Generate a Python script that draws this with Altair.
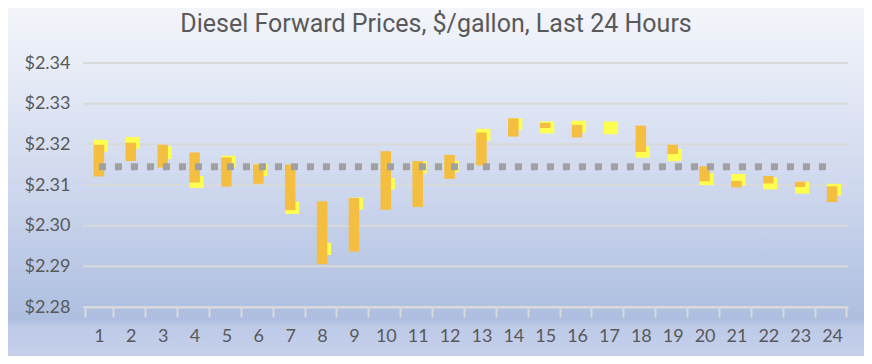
import altair as alt
import pandas as pd

TITLE = "Diesel Forward Prices, $/gallon, Last 24 Hours"
hours = list(range(1, 25))

# orange bars (top, bottom)
orange_top = [2.3199, 2.3204, 2.3199, 2.3180, 2.3168, 2.3151, 2.3150, 2.3060,
              2.3068, 2.3183, 2.3159, 2.3174, 2.3229, 2.3264, 2.3253, 2.3248,
              2.3240, 2.3246, 2.3199, 2.3146, 2.3110, 2.3122, 2.3108, 2.3097]
orange_bot = [2.3121, 2.3159, 2.3143, 2.3106, 2.3096, 2.3103, 2.3038, 2.2905,
              2.2936, 2.3039, 2.3046, 2.3115, 2.3148, 2.3219, 2.3240, 2.3217,
              2.3240, 2.3181, 2.3176, 2.3109, 2.3094, 2.3104, 2.3095, 2.3058]
# yellow boxes (top, bottom)
yellow_top = [2.3211, 2.3218, 2.3195, 2.3122, 2.3172, 2.3152, 2.3059, 2.2958,
              2.3069, 2.3117, 2.3158, 2.3160, 2.3238, 2.3264, 2.3256, 2.3258,
              2.3256, 2.3195, 2.3189, 2.3129, 2.3127, 2.3118, 2.3108, 2.3103]
yellow_bot = [2.3182, 2.3189, 2.3164, 2.3093, 2.3143, 2.3122, 2.3029, 2.2928,
              2.3040, 2.3089, 2.3128, 2.3131, 2.3209, 2.3236, 2.3227, 2.3229,
              2.3225, 2.3167, 2.3159, 2.3100, 2.3099, 2.3089, 2.3079, 2.3074]
average = 2.3145
y_ticks = [2.28, 2.29, 2.30, 2.31, 2.32, 2.33, 2.34]

W, H = 765, 244
PAD = {"left": 75, "top": 55, "right": 16, "bottom": 49}

df = pd.DataFrame({
    "hour": hours,
    "o_top": orange_top, "o_bot": orange_bot,
    "y_top": yellow_top, "y_bot": yellow_bot,
    "avg": [average] * len(hours),
})
grid_df = pd.DataFrame({"v": y_ticks})
title_df = pd.DataFrame({"t": [TITLE]})

yscale = alt.Scale(domain=[2.28, 2.34], nice=False, zero=False)
FONT = "Lato"
TXT = "#595959"

xenc = alt.X("hour:O", title=None,
             axis=alt.Axis(labelAngle=0, tickBand="extent", tickSize=10,
                           tickColor="#d9d9d9", tickWidth=2,
                           domainColor="#d9d9d9", domainWidth=2,
                           labelPadding=10, labelFont=FONT, labelFontSize=18,
                           labelColor=TXT, grid=False, zindex=1))

bg = alt.Chart(title_df).mark_rect(
    fill=alt.Gradient(
        gradient="linear",
        stops=[alt.GradientStop(color="#f3f5fa", offset=0),
               alt.GradientStop(color="#e6ebf6", offset=0.18),
               alt.GradientStop(color="#cbd5ec", offset=0.55),
               alt.GradientStop(color="#adbee0", offset=0.895),
               alt.GradientStop(color="#bdcae8", offset=0.915),
               alt.GradientStop(color="#c5d0ea", offset=1)],
        x1=0, x2=0, y1=0, y2=1)
).encode(x=alt.value(-PAD["left"]), x2=alt.value(W + PAD["right"]),
         y=alt.value(-PAD["top"]), y2=alt.value(H + PAD["bottom"]))

grid = alt.Chart(grid_df).mark_rule(color="#d9d9d9", strokeWidth=2).encode(
    y=alt.Y("v:Q", scale=yscale, title=None,
            axis=alt.Axis(values=y_ticks, format="$.2f", domain=False, ticks=False,
                          grid=False, labelPadding=13, labelFont=FONT,
                          labelFontSize=18, labelColor=TXT, zindex=1)),
    x=alt.value(0), x2=alt.value(W))

yellow = alt.Chart(df).mark_bar(color="#ffff4f", width=14, xOffset=2).encode(
    x=xenc, y=alt.Y("y_top:Q", scale=yscale), y2="y_bot:Q")

orange = alt.Chart(df).mark_bar(color="#f4bf41", width=10.5).encode(
    x=xenc, y=alt.Y("o_top:Q", scale=yscale), y2="o_bot:Q")

avg_line = alt.Chart(df).mark_line(color="#a0a0a0", strokeWidth=7,
                                   strokeDash=[7, 9], strokeCap="butt").encode(
    x=xenc, y=alt.Y("avg:Q", scale=yscale))

title = alt.Chart(title_df).mark_text(
    font="Roboto", fontSize=25, color=TXT, align="center", baseline="alphabetic"
).encode(text="t:N", x=alt.value(353), y=alt.value(-31))

chart = alt.layer(bg, grid, yellow, orange, avg_line, title).properties(
    width=W, height=H, autosize=alt.AutoSizeParams(type="none"), padding=PAD
).configure_view(strokeWidth=0)

chart.save("out.html", embed_options={"renderer": "svg", "actions": False})
